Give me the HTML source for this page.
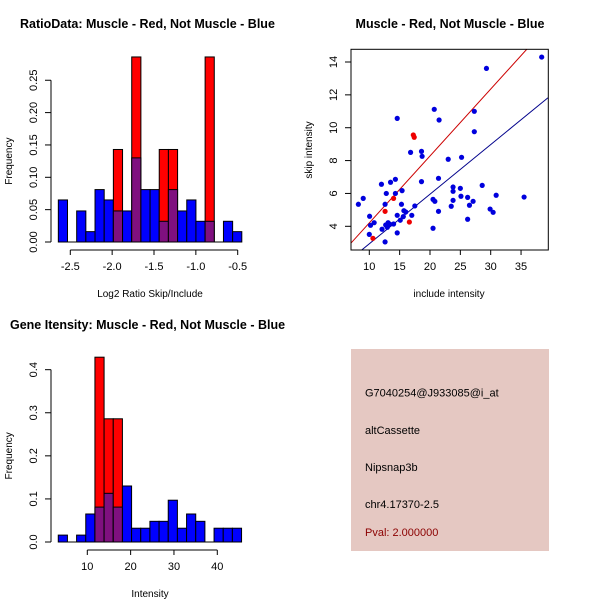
<!DOCTYPE html>
<html><head><meta charset="utf-8"><style>
body{margin:0;background:#fff;}
svg{display:block;font-family:"Liberation Sans",Arial,sans-serif;}
</style></head><body>
<svg id="c" width="600" height="600" viewBox="0 0 600 600"></svg>
<script>
// Panel 1: log2 ratio histogram
const ratioStart = -2.643, ratioWidth = 0.1096;
const ratioBlue = [0.065,0,0.048,0.016,0.081,0.065,0.048,0.048,0.13,0.081,0.081,0.032,0.081,0.048,0.065,0.032,0.032,0,0.032,0.016];
const ratioRed  = [0,0,0,0,0,0,0.143,0,0.286,0,0,0.143,0.143,0,0,0,0.286,0,0,0];
const ratioXTicks = [-2.5,-2.0,-1.5,-1.0,-0.5];
const ratioXLabels = ["-2.5","-2.0","-1.5","-1.0","-0.5"];
const ratioYTicks = [0,0.05,0.10,0.15,0.20,0.25];
const ratioYLabels = ["0.00","0.05","0.10","0.15","0.20","0.25"];
// Panel 3: intensity histogram
const intStart = 3.3, intWidth = 2.115;
const intBlue = [0.016,0,0.016,0.065,0.081,0.113,0.081,0.13,0.032,0.032,0.048,0.048,0.097,0.032,0.065,0.048,0,0.032,0.032,0.032];
const intRed  = [0,0,0,0,0.429,0.286,0.286,0,0,0,0,0,0,0,0,0,0,0,0,0];
const intXTicks = [10,20,30,40];
const intYTicks = [0,0.1,0.2,0.3,0.4];
const intYLabels = ["0.0","0.1","0.2","0.3","0.4"];
// Panel 2: scatter
const blueX = [8.2,9.0,10.05,10.2,10.0,10.8,12.0,12.1,12.6,12.8,12.6,12.7,13.1,13.4,12.97,14.0,13.5,14.3,14.3,14.6,14.6,14.6,15.3,15.4,15.1,15.7,16.0,15.6,16.8,17.0,17.5,18.6,18.7,18.6,20.7,20.5,20.5,20.8,21.5,21.4,21.4,23.0,23.5,23.8,23.8,23.8,25.0,25.1,25.2,26.2,26.2,26.5,27.1,27.3,27.3,28.6,29.3,29.9,30.4,30.9,35.5,38.4];
const blueY = [5.34,5.70,4.61,4.06,3.51,4.22,6.56,3.82,5.34,6.0,3.05,4.08,4.22,4.12,3.94,4.14,6.68,6.86,6.0,10.57,4.67,3.6,5.34,6.17,4.37,4.95,4.87,4.59,8.5,4.67,5.24,8.56,8.26,6.72,11.12,3.88,5.64,5.52,10.47,6.92,4.91,8.08,5.22,6.39,6.13,5.58,6.31,5.83,8.2,5.76,4.43,5.28,5.52,11.0,9.76,6.49,13.61,5.05,4.85,5.89,5.78,14.3];
const redX = [17.25,17.4,14.0,12.6,16.6,10.6];
const redY = [9.56,9.42,5.70,4.91,4.26,3.27];
const redFit = [0.132,0.4074];   // intercept, slope
const blueFit = [-0.085,0.302];
const scXTicks = [10,15,20,25,30,35];
const scYTicks = [4,6,8,10,12,14];
const infoLines = ["G7040254@J933085@i_at","altCassette","Nipsnap3b","chr4.17370-2.5"];
const pvalText = "Pval: 2.000000";

const NS="http://www.w3.org/2000/svg", svg=document.getElementById('c');
function el(t,a,p){const e=document.createElementNS(NS,t);for(const k in a)e.setAttribute(k,a[k]);(p||svg).appendChild(e);return e;}
function txt(s,x,y,a,p){const e=el('text',Object.assign({x:x,y:y,'font-size':11,fill:'#000'},a||{}),p);e.textContent=s;return e;}

function hist(name,sx,sy,start,w,blue,red,xt,xl,yt,yl,axY,title,tx,xlab,xlabY){
  const g=el('g',{});
  
  
  for(let i=0;i<blue.length;i++){
    const x0=sx(start+i*w), x1=sx(start+(i+1)*w);
    if(red[i]>0){const r=el('rect',{x:x0,y:sy(red[i]),width:x1-x0,height:sy(0)-sy(red[i]),fill:'#ff0000',stroke:'#000','stroke-width':1},g);
      
      }
    if(blue[i]>0){const col=red[i]>0?'#7f107f':'#0000ff';
      const b=el('rect',{x:x0,y:sy(blue[i]),width:x1-x0,height:sy(0)-sy(blue[i]),fill:col,stroke:'#000','stroke-width':1},g);
      
      }
  }
  el('line',{x1:sx(start),x2:sx(start+blue.length*w),y1:sy(0),y2:sy(0),stroke:'#000'},g);
  el('line',{x1:sx(xt[0]),x2:sx(xt[xt.length-1]),y1:axY,y2:axY,stroke:'#000'},g);
  xt.forEach((v,i)=>{el('line',{x1:sx(v),x2:sx(v),y1:axY,y2:axY+5,stroke:'#000'},g);txt(xl[i],sx(v),axY+20,{'text-anchor':'middle'},g);});
  el('line',{x1:51,x2:51,y1:sy(yt[0]),y2:sy(yt[yt.length-1]),stroke:'#000'},g);
  yt.forEach((v,i)=>{el('line',{x1:45,x2:51,y1:sy(v),y2:sy(v),stroke:'#000'},g);txt(yl[i],0,0,{'text-anchor':'middle',transform:`translate(37,${sy(v)}) rotate(-90)`},g);});
  const t=txt(title,tx,title.startsWith('Gene')?329:28,{'font-weight':'bold','font-size':12.5},g);
  
  
  txt(xlab,150,xlabY,{'text-anchor':'middle','font-size':10},g);
  txt('Frequency',0,0,{'text-anchor':'middle','font-size':10,transform:`translate(12,${(sy(yt[0])+sy(yt[yt.length-1]))/2}) rotate(-90)`},g);
}
// panel 1 scales
const r_sx=v=>70.3+(v+2.5)*83.7, r_sy=v=>242-v*647;
hist('ratio-histogram',r_sx,r_sy,ratioStart,ratioWidth,ratioBlue,ratioRed,ratioXTicks,ratioXLabels,ratioYTicks,ratioYLabels,250,'RatioData: Muscle - Red, Not Muscle - Blue',20,'Log2 Ratio Skip/Include',297);
// panel 3 scales
const i_sx=v=>87.3+(v-10)*4.333, i_sy=v=>542-v*430.8;
hist('intensity-histogram',i_sx,i_sy,intStart,intWidth,intBlue,intRed,intXTicks,intXTicks.map(String),intYTicks,intYLabels,550,'Gene Itensity: Muscle - Red, Not Muscle - Blue',10,'Intensity',597);

// scatter
const s_sx=v=>369.3+(v-10)*6.07, s_sy=v=>226.3-(v-4)*16.43;
const sg=el('g',{});


const cp=el('clipPath',{id:'cl'},sg);el('rect',{x:351,y:49,width:197,height:201},cp);
const xmin=(351-369.3)/6.07+10, xmax=(548-369.3)/6.07+10;
[[redFit,'#cc0000','red-fit-line'],[blueFit,'#00008b','blue-fit-line']].forEach(([f,c,n])=>{
  const l=el('line',{x1:s_sx(xmin),y1:s_sy(f[0]+f[1]*xmin),x2:s_sx(xmax),y2:s_sy(f[0]+f[1]*xmax),stroke:c,'clip-path':'url(#cl)'},sg);
  
  
});
blueX.forEach((v,i)=>{const p=el('circle',{cx:s_sx(v),cy:s_sy(blueY[i]),r:2.6,fill:'#0000dd'},sg);
  
  });
redX.forEach((v,i)=>{const p=el('circle',{cx:s_sx(v),cy:s_sy(redY[i]),r:2.6,fill:'#ee0000'},sg);
  
  });
el('rect',{x:351,y:49.3,width:197.3,height:200.7,fill:'none',stroke:'#000'},sg);
scXTicks.forEach(v=>{el('line',{x1:s_sx(v),x2:s_sx(v),y1:250,y2:255,stroke:'#000'},sg);txt(String(v),s_sx(v),270,{'text-anchor':'middle'},sg);});
scYTicks.forEach(v=>{el('line',{x1:345,x2:351,y1:s_sy(v),y2:s_sy(v),stroke:'#000'},sg);txt(String(v),0,0,{'text-anchor':'middle',transform:`translate(337,${s_sy(v)}) rotate(-90)`},sg);});
txt('Muscle - Red, Not Muscle - Blue',450,28,{'text-anchor':'middle','font-weight':'bold','font-size':12.5},sg);
txt('include intensity',449,297,{'text-anchor':'middle','font-size':10},sg);
txt('skip intensity',0,0,{'text-anchor':'middle','font-size':10,transform:'translate(312,150) rotate(-90)'},sg);

// info box
const ig=el('g',{});


el('rect',{x:351,y:349,width:198,height:202,fill:'#e5c8c2'},ig);
const ys=[396.5,434,471,508];
infoLines.forEach((s,i)=>txt(s,365,ys[i],{'font-size':11},ig));
txt(pvalText,365,536,{'font-size':11,fill:'#8b0000'},ig);
</script>
</body></html>
